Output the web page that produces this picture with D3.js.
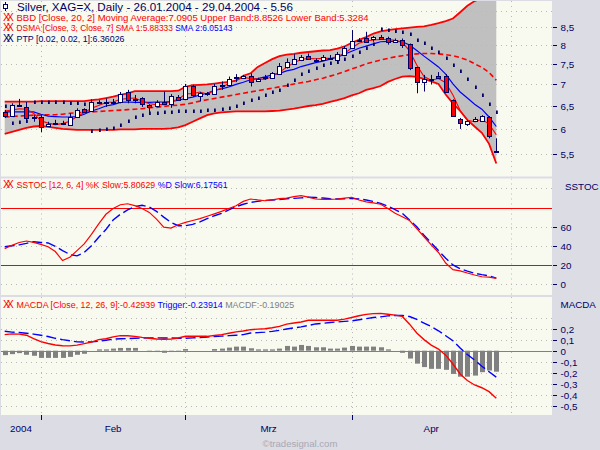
<!DOCTYPE html>
<html><head><meta charset="utf-8">
<script src="https://cdn.jsdelivr.net/npm/d3@7"></script>
<style>
html,body{margin:0;padding:0;background:#dcdce4;}
svg{display:block;font-family:"Liberation Sans",Arial,sans-serif;}
</style></head><body>
<svg id="c" width="600" height="450"></svg>
<script>
// ---------------- DATA ----------------
const dates = [
"2004-01-26","2004-01-27","2004-01-28","2004-01-29","2004-01-30",
"2004-02-02","2004-02-03","2004-02-04","2004-02-05","2004-02-06",
"2004-02-09","2004-02-10","2004-02-11","2004-02-12","2004-02-13",
"2004-02-16","2004-02-17","2004-02-18","2004-02-19","2004-02-20",
"2004-02-23","2004-02-24","2004-02-25","2004-02-26","2004-02-27",
"2004-03-01","2004-03-02","2004-03-03","2004-03-04","2004-03-05",
"2004-03-08","2004-03-09","2004-03-10","2004-03-11","2004-03-12",
"2004-03-15","2004-03-16","2004-03-17","2004-03-18","2004-03-19",
"2004-03-22","2004-03-23","2004-03-24","2004-03-25","2004-03-26",
"2004-03-29","2004-03-30","2004-03-31",
"2004-04-01","2004-04-02",
"2004-04-05","2004-04-06","2004-04-07","2004-04-08","2004-04-09",
"2004-04-12","2004-04-13","2004-04-14","2004-04-15","2004-04-16",
"2004-04-19","2004-04-20","2004-04-21","2004-04-22","2004-04-23",
"2004-04-26","2004-04-27","2004-04-28","2004-04-29"];

const open = [6.36,6.27,6.50,6.47,6.24, 6.24,6.06,6.13,6.11,6.08, 6.24,6.42,6.38,6.56,6.58,
  6.58,6.58,6.80,6.65,6.66, 6.51,6.49,6.58,6.53,6.70, 6.64,6.94,6.72,6.75,6.76,
  6.97,6.98,7.15,7.14,7.19, 7.06,7.15,7.14,7.24,7.40, 7.48,7.60,7.71,7.61,7.61,
  7.63,7.60,7.73, 7.91,8.12, 8.19,8.14,8.23,8.19,8.09, 8.14,8.02,7.41,7.04,7.11,
  7.19,7.19,6.62,6.20,6.10, 6.15,6.17,6.24,5.57];
const high = [6.40,6.55,6.65,6.58,6.29, 6.29,6.15,6.19,6.17,6.33, 6.44,6.44,6.64,6.62,6.66,
  6.65,6.81,6.86,6.74,6.69, 6.53,6.62,6.82,6.76,6.74, 7.00,6.98,6.81,6.81,7.00,
  7.06,7.18,7.24,7.22,7.26, 7.15,7.22,7.29,7.52,7.64, 7.75,7.73,7.77,7.64,7.73,
  7.73,7.81,7.97, 8.42,8.19, 8.37,8.25,8.28,8.23,8.18, 8.18,8.04,7.42,7.22,7.22,
  7.29,7.24,6.64,6.23,6.18, 6.25,6.29,6.27,5.81];
const low = [6.23,6.25,6.49,6.17,6.15, 5.93,6.05,6.10,6.08,6.07, 6.23,6.34,6.36,6.53,6.47,
  6.53,6.55,6.55,6.55,6.47, 6.36,6.47,6.51,6.45,6.62, 6.62,6.70,6.60,6.72,6.74,
  6.86,6.95,7.05,7.12,6.94, 7.05,7.10,7.12,7.22,7.38, 7.47,7.57,7.60,7.57,7.58,
  7.60,7.57,7.70, 7.89,8.08, 8.08,8.09,8.14,8.01,8.08, 7.92,7.34,6.78,6.82,6.99,
  7.13,6.79,6.26,6.00,6.06, 6.14,6.17,5.81,5.56];
const close = [6.27,6.52,6.51,6.24,6.23, 6.04,6.10,6.12,6.12,6.25, 6.40,6.36,6.57,6.57,6.57,
  6.59,6.76,6.62,6.64,6.53, 6.46,6.58,6.53,6.72,6.64, 6.94,6.72,6.78,6.78,6.95,
  6.98,7.12,7.16,7.19,7.04, 7.12,7.16,7.26,7.44,7.54, 7.62,7.68,7.62,7.60,7.69,
  7.64,7.75,7.91, 8.11,8.13, 8.09,8.21,8.16,8.09,8.14, 8.00,7.39,7.04,7.12,7.11,
  7.15,6.80,6.27,6.12,6.16, 6.20,6.27,5.85,5.56];

// Bollinger bands (BBD 20,2)
const bbUpper = [6.59,6.59,6.59,6.59,6.59, 6.60,6.60,6.60,6.60,6.60, 6.60,6.60,6.62,6.64,6.67,
  6.70,6.74,6.78,6.83,6.83, 6.83,6.83,6.83,6.83,6.84, 6.93,6.97,6.98,6.99,7.01,
  7.03,7.05,7.08,7.20,7.26, 7.42,7.52,7.62,7.70,7.74, 7.76,7.79,7.81,7.83,7.85,
  7.86,7.90,7.96, 8.06,8.14, 8.22,8.32,8.38,8.42,8.45, 8.47,8.49,8.51,8.53,8.57,
  8.62,8.68,8.76,8.95,9.15, 9.30,9.40,9.45,9.45];
const bbMid = [6.25,6.26,6.27,6.28,6.29, 6.29,6.30,6.30,6.31,6.33, 6.34,6.35,6.36,6.37,6.38,
  6.39,6.40,6.41,6.42,6.43, 6.45,6.46,6.48,6.50,6.51, 6.53,6.56,6.60,6.63,6.66,
  6.69,6.72,6.75,6.78,6.81, 6.84,6.87,6.90,6.93,6.96, 7.00,7.03,7.06,7.10,7.14,
  7.19,7.24,7.30, 7.37,7.43, 7.50,7.55,7.60,7.64,7.68, 7.71,7.74,7.76,7.77,7.77,
  7.76,7.74,7.71,7.66,7.60, 7.50,7.41,7.28,7.09];
const bbLower = [5.90,5.94,5.98,6.02,6.05, 6.06,6.04,6.02,6.00,5.99, 5.98,5.98,5.98,5.98,5.98,
  5.98,5.99,5.99,5.99,6.00, 6.00,6.00,6.00,6.01,6.03, 6.08,6.15,6.22,6.29,6.33,
  6.35,6.36,6.37,6.37,6.37, 6.37,6.37,6.38,6.39,6.41, 6.43,6.46,6.49,6.51,6.54,
  6.58,6.62,6.67, 6.73,6.78, 6.86,6.90,6.95,7.05,7.12, 7.18,7.19,7.17,7.12,7.06,
  7.00,6.75,6.55,6.38,6.19, 6.05,5.92,5.70,5.33];

// DSMA (3 / 7)
const sma1 = [6.38,6.40,6.43,6.42,6.33, 6.17,6.12,6.09,6.11,6.16, 6.26,6.34,6.44,6.50,6.57,
  6.58,6.64,6.66,6.67,6.60, 6.54,6.52,6.52,6.61,6.63, 6.77,6.77,6.81,6.76,6.84,
  6.90,7.02,7.09,7.16,7.13, 7.12,7.11,7.18,7.29,7.41, 7.53,7.61,7.64,7.63,7.64,
  7.64,7.69,7.77, 7.92,8.05, 8.11,8.14,8.15,8.15,8.13, 8.08,7.84,7.47,7.18,7.09,
  7.13,7.03,6.74,6.39,6.18, 6.15,6.20,6.10,5.88];
const sma2 = [6.36,6.36,6.36,6.36,6.36, 6.31,6.27,6.26,6.25,6.25, 6.26,6.31,6.38,6.43,6.49,
  6.52,6.57,6.58,6.57,6.57, 6.57,6.58,6.58,6.59,6.62, 6.66,6.69,6.74,6.78,6.85,
  6.88,6.93,6.99,7.04,7.10, 7.13,7.17,7.22,7.26,7.32, 7.36,7.43,7.48,7.53,7.57,
  7.62,7.67,7.75, 7.83,7.91, 7.97,8.03,8.09,8.10,8.10, 8.09,8.00,7.85,7.70,7.56,
  7.42,7.24,7.00,6.81,6.67, 6.53,6.42,6.25,6.05];

// PTP (parabolic stop)
const sar = [6.50,6.13,6.14,6.16,6.58, 6.58,6.57,6.57,6.57,6.56, 6.55,6.53,5.96,5.97,6.00,
  6.01,6.08,6.17,6.26,6.30, 6.33,6.34,6.35,6.36,6.37, 6.38,6.38,6.39,6.40,6.41,
  6.42,6.44,6.49,6.56,6.62, 6.68,6.74,6.80,6.86,6.98, 7.10,7.25,7.33,7.40,7.47,
  7.53,7.55,7.62, 7.70,7.82, 7.93,8.02,8.44,8.42,8.39, 8.37,8.30,8.14,8.06,7.92,
  7.80,7.64,7.48,7.31,7.12, 6.92,6.75,6.53,6.36];

// SSTOC (12,6,4)
const stochK = [37,40.5,43.5,45,43.5, 41.5,39,34,24.5,28, 35,42,52,63,73,
  79,83,84,82,79, 75,68,59.5,58.5,62, 64.5,66.5,68.5,71,73.5,
  76,79,82,86.5,89, 88,87.2,88,89.3,90, 91.5,92.5,91,89,88.7,
  88.7,89,90, 90.8,88, 86,85,83.5,79,74, 70.5,66.5,58,49.5,41,
  33,22,15,13.8,11.5, 9.4,7.6,7.1,5.8];
const stochD = [39,40,41,42.5,44.3, 43.5,43,39.5,35,31, 29.5,33,40,49,57,
  67,73,77.5,81,82.5, 80.5,76,70,64.5,61, 61,62.5,65,68.5,71.5,
  74,77.5,81,83.5,85.5, 86.5,87.5,88,88.5,89.2, 89.7,90.2,90.8,90.5,90,
  89.2,89,89.3, 89.7,89, 88,86.5,84.5,81.5,78, 74,67,60,51,43,
  35,27,20,16,13.5, 11.2,9.8,8.6,6.2];

// MACDA (12,26,9)
const macd = [0.145,0.152,0.150,0.140,0.110, 0.082,0.065,0.052,0.045,0.044, 0.050,0.064,0.078,0.100,0.108,
  0.125,0.136,0.135,0.130,0.120, 0.112,0.106,0.104,0.105,0.115, 0.130,0.130,0.130,0.130,0.137,
  0.145,0.158,0.170,0.178,0.190, 0.195,0.198,0.207,0.220,0.240, 0.250,0.260,0.275,0.276,0.275,
  0.275,0.275,0.285, 0.300,0.316, 0.328,0.335,0.337,0.330,0.322, 0.310,0.240,0.160,0.100,0.050,
  0.015,-0.040,-0.120,-0.210,-0.270, -0.310,-0.335,-0.370,-0.429];
const trigger = [0.176,0.168,0.165,0.158,0.150, 0.140,0.128,0.112,0.100,0.090, 0.080,0.078,0.080,0.085,0.095,
  0.104,0.108,0.110,0.112,0.115, 0.116,0.116,0.115,0.115,0.112, 0.113,0.116,0.120,0.124,0.128,
  0.132,0.136,0.140,0.145,0.160, 0.163,0.168,0.175,0.184,0.196, 0.207,0.215,0.228,0.242,0.248,
  0.255,0.260,0.265, 0.270,0.280, 0.290,0.300,0.306,0.315,0.318, 0.318,0.309,0.283,0.250,0.218,
  0.180,0.135,0.090,0.025,-0.035, -0.085,-0.140,-0.190,-0.239];
const macdHist = [-0.040,-0.031,-0.022,-0.037,-0.046, -0.065,-0.065,-0.065,-0.065,-0.056, -0.037,-0.028,0,0.012,0.012,
  0.019,0.025,0.025,0.025,0, -0.012,-0.012,-0.019,-0.012,-0.009, 0.015,0,0,0,0.015,
  0.019,0.028,0.037,0.037,0.022, 0.012,0.012,0.012,0.019,0.043, 0.037,0.052,0.043,0.031,0.031,
  0.019,0.019,0.028, 0.043,0.037, 0.037,0.037,0.031,0.012,0, -0.019,-0.071,-0.117,-0.148,-0.164,
  -0.164,-0.173,-0.210,-0.235,-0.235, -0.225,-0.194,-0.179,-0.190];

// axis ticks / labels
const priceTicks = [5.5,6,6.5,7,7.5,8,8.5];
const priceGrid  = [5.5,6,6.5,7,7.5,8,8.5,9];
const stochTicks = [0,20,40,60];
const stochGrid  = [0,20,40,60,100];
const stochLevels = [20,80];
const macdTicks = [0.2,0.1,0,-0.1,-0.2,-0.3,-0.4,-0.5];
const macdGrid  = [0.3,0.2,0.1,-0.1,-0.2,-0.3,-0.4,-0.5];
const monthLabels = ["2004","Feb","Mrz","Apr"];

const legendMain = "Silver, XAG=X, Daily - 26.01.2004 - 29.04.2004 - 5.56";
const legendBBD = "BBD [Close, 20, 2] Moving Average:7.0905 Upper Band:8.8526 Lower Band:5.3284";
const legendDSMA = ["DSMA [Close, 3, Close, 7] SMA 1:5.88333", " SMA 2:6.05143"];
const legendPTP = "PTP [0.02, 0.02, 1]:6.36026";
const legendSSTOC = ["SSTOC [12, 6, 4] %K Slow:5.80629", " %D Slow:6.17561"];
const legendMACD = ["MACDA [Close, 12, 26, 9]:-0.42939", " Trigger:-0.23914", " MACDF:-0.19025"];

// ---------------- DRAW ----------------
const svg = d3.select("#c");
const NAVY = "#000066", RED = "#ff0000", BLUE = "#0000ff", GRID = "#b8b8b8", BG = "#f8faf0";
const loc = d3.formatLocale({decimal:",", thousands:".", grouping:[3], currency:["","€"], minus:"-"});
const fmt = loc.format("~g");

const n = dates.length;
const dts = dates.map(d3.timeParse("%Y-%m-%d"));
const x = d3.scaleLinear().domain([0, n-1]).range([4.7, 496.3]);

const P = [
  {y0:1, y1:176.5},
  {y0:178.5, y1:295},
  {y0:297, y1:415}
];
const PX0 = 1, PX1 = 552;

svg.append("rect").attr("width",600).attr("height",450).attr("fill","#dcdce4");
P.forEach((p,k)=>{
  svg.append("rect").attr("x",PX0).attr("y",p.y0).attr("width",PX1-PX0).attr("height",p.y1-p.y0).attr("fill",BG);
  svg.append("clipPath").attr("id","clip"+k).append("rect")
    .attr("x",PX0).attr("y",p.y0).attr("width",PX1-PX0).attr("height",p.y1-p.y0);
});

const yP = d3.scaleLog().domain([5.5, 8.5]).range([154.3, 27.3]);
const yS = d3.scaleLinear().domain([0, 60]).range([284, 226.7]);
const yM = d3.scaleLinear().domain([0, -0.5]).range([350.7, 406]);

// month boundaries (first trading day of each month), plus next one after data
const bounds = [];
for (let i=1;i<n;i++) if (dts[i].getMonth()!==dts[i-1].getMonth()) bounds.push(i);
{
  let d = d3.timeDay.offset(dts[n-1],1), idx = n-1;
  while (true) {
    if (d.getDay()%6!==0) { idx++; if (d.getMonth()!==dts[n-1].getMonth()) break; }
    d = d3.timeDay.offset(d,1);
  }
  bounds.push(idx);
}

const crisp = v => Math.round(v)+0.5;

function hGrid(g, scale, vals){
  g.selectAll(null).data(vals).enter().append("line")
    .attr("x1",PX0).attr("x2",PX1)
    .attr("y1",d=>crisp(scale(d))).attr("y2",d=>crisp(scale(d)))
    .attr("stroke",GRID).attr("stroke-dasharray","1,4");
}
function vGrid(g, p){
  g.selectAll(null).data(bounds).enter().append("line")
    .attr("x1",d=>crisp(x(d))).attr("x2",d=>crisp(x(d)))
    .attr("y1",p.y0).attr("y2",p.y1)
    .attr("stroke",GRID).attr("stroke-dasharray","1,4");
}

// ---------- Panel 1 ----------
const g1 = svg.append("g").attr("clip-path","url(#clip0)");
g1.append("path").datum(d3.range(n))
  .attr("d", d3.area().x(i=>x(i)).y0(i=>yP(bbLower[i])).y1(i=>yP(bbUpper[i])))
  .attr("fill","#c0c0c0");
hGrid(g1, yP, priceGrid); vGrid(g1, P[0]);
const ln = (arr, sc) => d3.line().x(i=>x(i)).y(i=>sc(arr[i]));
g1.append("path").datum(d3.range(n)).attr("d", ln(bbUpper,yP)).attr("fill","none").attr("stroke",RED).attr("stroke-width",1.8);
g1.append("path").datum(d3.range(n)).attr("d", ln(bbLower,yP)).attr("fill","none").attr("stroke",RED).attr("stroke-width",1.8);
g1.append("path").datum(d3.range(n)).attr("d", ln(bbMid,yP)).attr("fill","none").attr("stroke",RED).attr("stroke-width",1.6).attr("stroke-dasharray","5,3");
g1.append("path").datum(d3.range(n)).attr("d", ln(sma2,yP)).attr("fill","none").attr("stroke",BLUE).attr("stroke-width",1.2);
g1.append("path").datum(d3.range(n)).attr("d", ln(sma1,yP)).attr("fill","none").attr("stroke",RED).attr("stroke-width",1.1);

// candles
const cg = g1.append("g");
d3.range(n).forEach(i=>{
  const cx = Math.round(x(i));
  cg.append("line").attr("x1",cx+0.5).attr("x2",cx+0.5)
    .attr("y1",yP(high[i])).attr("y2",yP(low[i])).attr("stroke",NAVY).attr("stroke-width",1);
  const yo = yP(open[i]), yc = yP(close[i]);
  const top = Math.min(yo,yc), h = Math.max(1, Math.abs(yo-yc));
  cg.append("rect").attr("x",cx-1.5).attr("y",Math.round(top)+0.5).attr("width",4).attr("height",Math.round(h))
    .attr("fill", close[i]>=open[i] ? "#ffffff" : RED).attr("stroke",NAVY).attr("stroke-width",1);
});
// SAR
g1.selectAll(null).data(d3.range(n)).enter().append("rect")
  .attr("x",i=>Math.round(x(i))).attr("y",i=>Math.round(yP(sar[i]))-1.5)
  .attr("width",1.8).attr("height",3.5).attr("fill",NAVY);

// ---------- Panel 2 ----------
const g2 = svg.append("g").attr("clip-path","url(#clip1)");
hGrid(g2, yS, stochGrid); vGrid(g2, P[1]);
g2.selectAll(null).data(stochLevels).enter().append("line")
  .attr("x1",PX0).attr("x2",PX1).attr("y1",d=>crisp(yS(d))).attr("y2",d=>crisp(yS(d)))
  .attr("stroke",RED).attr("stroke-width",1);
g2.append("path").datum(d3.range(n)).attr("d", ln(stochD,yS)).attr("fill","none").attr("stroke",BLUE).attr("stroke-width",1.4).attr("stroke-dasharray","10,4");
g2.append("path").datum(d3.range(n)).attr("d", ln(stochK,yS)).attr("fill","none").attr("stroke",RED).attr("stroke-width",1.2);

// ---------- Panel 3 ----------
const g3 = svg.append("g").attr("clip-path","url(#clip2)");
hGrid(g3, yM, macdGrid); vGrid(g3, P[2]);
g3.selectAll(null).data(d3.range(n)).enter().append("rect")
  .attr("x",i=>Math.round(x(i))-2).attr("width",5)
  .attr("y",i=>Math.min(yM(0),yM(macdHist[i])))
  .attr("height",i=>Math.abs(yM(macdHist[i])-yM(0)))
  .attr("fill","#808080");
g3.append("line").attr("x1",PX0).attr("x2",PX1).attr("y1",crisp(yM(0))).attr("y2",crisp(yM(0))).attr("stroke","#808080");
g3.append("path").datum(d3.range(n)).attr("d", ln(trigger,yM)).attr("fill","none").attr("stroke",BLUE).attr("stroke-width",1.4).attr("stroke-dasharray","10,4");
g3.append("path").datum(d3.range(n)).attr("d", ln(macd,yM)).attr("fill","none").attr("stroke",RED).attr("stroke-width",1.4);

// ---------- Right axes ----------
const ax = svg.append("g").attr("font-size",9.8).attr("fill",NAVY);
function rightAxis(scale, vals){
  vals.forEach(v=>{
    const y = crisp(scale(v));
    ax.append("line").attr("x1",553).attr("x2",557).attr("y1",y).attr("y2",y).attr("stroke",NAVY);
    ax.append("text").attr("x",560.5).attr("y",y).attr("dy","0.35em").text(fmt(v));
  });
}
rightAxis(yP, priceTicks);
rightAxis(yS, stochTicks);
rightAxis(yM, macdTicks);
ax.append("text").attr("x",565).attr("y",189.5).text("SSTOC");
ax.append("text").attr("x",560.5).attr("y",307.5).text("MACDA");

// ---------- Bottom axis ----------
const bx = svg.append("g").attr("font-size",9.8).attr("fill",NAVY);
bounds.filter(b=>b<n).forEach(b=>{
  bx.append("line").attr("x1",crisp(x(b))).attr("x2",crisp(x(b))).attr("y1",415).attr("y2",420).attr("stroke",NAVY);
});
const edges = [-0.5, ...bounds];
monthLabels.forEach((lab,j)=>{
  bx.append("text").attr("x",(x(edges[j])+x(edges[j+1]))/2).attr("y",431.5)
    .attr("text-anchor","middle").text(lab);
});
svg.append("text").attr("x",300).attr("y",447).attr("text-anchor","middle")
  .attr("font-size",9.6).attr("fill","#a8a8b4").text("©tradesignal.com");

// ---------- Legends ----------
const lg = svg.append("g").attr("font-size",9.3);
function xxIcon(xp, yb, color){
  lg.append("text").attr("x",xp).attr("y",yb).attr("fill",color).attr("font-size",10.5)
    .attr("letter-spacing","-3.2").text("XX");
}
function fit(t, len){ t.attr("textLength",len).attr("lengthAdjust","spacingAndGlyphs"); return t; }
// candle icon
lg.append("line").attr("x1",5.5).attr("x2",5.5).attr("y1",2).attr("y2",11).attr("stroke",NAVY);
lg.append("rect").attr("x",3.5).attr("y",4.5).attr("width",4).attr("height",4).attr("fill","#fff").attr("stroke",NAVY);
fit(lg.append("text").attr("x",17).attr("y",10.5).attr("fill",NAVY).attr("font-size",11.4).text(legendMain), 276);

xxIcon(3,20.5,RED);
fit(lg.append("text").attr("x",16.5).attr("y",20.5).attr("fill",RED).text(legendBBD), 352);
xxIcon(3,31,RED);
{const t = lg.append("text").attr("x",16.5).attr("y",31).attr("font-size",8.4);
 t.append("tspan").attr("fill",RED).text(legendDSMA[0]);
 t.append("tspan").attr("fill",BLUE).text(legendDSMA[1]);}
xxIcon(3,41.5,NAVY);
fit(lg.append("text").attr("x",16.5).attr("y",41.5).attr("fill",NAVY).text(legendPTP), 108);

xxIcon(3,188,RED);
{const t = lg.append("text").attr("x",16.5).attr("y",188).attr("font-size",8.8);
 t.append("tspan").attr("fill",RED).text(legendSSTOC[0]);
 t.append("tspan").attr("fill",BLUE).text(legendSSTOC[1]);}
xxIcon(3,308,RED);
{const t = lg.append("text").attr("x",16.5).attr("y",308).attr("font-size",8.9);
 t.append("tspan").attr("fill",RED).text(legendMACD[0]);
 t.append("tspan").attr("fill",BLUE).text(legendMACD[1]);
 t.append("tspan").attr("fill","#808080").text(legendMACD[2]);}
</script>
</body></html>
